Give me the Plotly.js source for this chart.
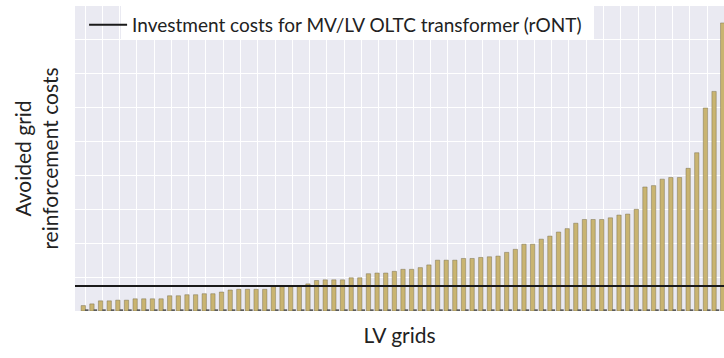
<!DOCTYPE html>
<html>
<head>
<meta charset="utf-8">
<script src="https://cdn.plot.ly/plotly-3.0.1.min.js"></script>
<style>html,body{margin:0;padding:0;background:#fff;}#chart{width:724px;height:358px;}</style>
</head>
<body>
<div id="chart"></div>
<script>
// Avoided grid reinforcement costs per LV grid (gridline units), sorted ascending
const avoidedCosts = [
  0.16, 0.21, 0.30, 0.30, 0.32, 0.32, 0.36, 0.36, 0.36, 0.36,
  0.45, 0.45, 0.48, 0.48, 0.51, 0.51, 0.56, 0.62, 0.64, 0.64,
  0.64, 0.64, 0.72, 0.72, 0.72, 0.72, 0.80, 0.90, 0.92, 0.92,
  0.92, 0.98, 0.98, 1.10, 1.12, 1.12, 1.17, 1.23, 1.23, 1.28,
  1.36, 1.50, 1.50, 1.50, 1.55, 1.55, 1.58, 1.60, 1.62, 1.73,
  1.82, 1.97, 1.97, 2.12, 2.21, 2.33, 2.43, 2.59, 2.70, 2.70,
  2.70, 2.75, 2.83, 2.86, 3.00, 3.66, 3.70, 3.89, 3.94, 3.94,
  4.21, 4.67, 5.99, 6.48, 8.50
];
// second (dark) series, near zero for every grid
const secondSeries = [
  0.05,0.05,0.05,0.05,0.05,0.05,0.05,0.05,0.05,0.05,
  0.05,0.05,0.05,0.05,0.05,0.05,0.05,0.05,0.05,0.05,
  0.05,0.05,0.05,0.05,0.05,0.05,0.05,0.05,0.05,0.05,
  0.05,0.05,0.05,0.05,0.05,0.05,0.05,0.05,0.05,0.05,
  0.05,0.05,0.05,0.05,0.05,0.05,0.05,0.05,0.05,0.05,
  0.05,0.05,0.05,0.05,0.05,0.05,0.05,0.05,0.05,0.05,
  0.05,0.05,0.05,0.05,0.05,0.05,0.05,0.05,0.05,0.05,
  0.05,0.05,0.05,0.05,0.05
];
const gridLabels = avoidedCosts.map((_, i) => 'LV' + (i + 1));
const rontCost = 0.74;
const legendLabel = 'Investment costs for MV/LV OLTC transformer (rONT)';
const xTitle = 'LV grids';
const yTitle = 'Avoided grid<br>reinforcement costs';

const FONT = 'Lato, "Open Sans", sans-serif';

const traces = [
  {
    type: 'bar', x: gridLabels, y: avoidedCosts,
    width: 0.5, offset: -0.45,
    marker: {color: '#c9b471', line: {color: 'rgba(110,100,70,0.55)', width: 0.8}},
    showlegend: false, hoverinfo: 'y'
  },
  {
    type: 'bar', x: gridLabels, y: secondSeries,
    width: 0.4, offset: 0.0,
    marker: {color: '#5a5a5a'},
    showlegend: false, hoverinfo: 'skip'
  },
  {
    type: 'scatter', mode: 'lines', xaxis: 'x2', yaxis: 'y',
    x: [0, 1], y: [rontCost, rontCost],
    line: {color: '#1a1a1a', width: 2},
    name: legendLabel, showlegend: true, hoverinfo: 'skip'
  }
];

const layout = {
  width: 724, height: 358,
  margin: {l: 75, r: 0, t: 6, b: 47},
  paper_bgcolor: '#ffffff',
  plot_bgcolor: '#eaeaf2',
  barmode: 'overlay',
  font: {family: FONT, color: '#222', size: 19},
  xaxis: {
    type: 'category', range: [-1.16, 73.95],
    showgrid: true, gridcolor: '#ffffff', gridwidth: 1,
    showticklabels: false, ticks: '', zeroline: false, showline: false,
    title: {text: xTitle, font: {family: FONT, size: 21, color: '#222'}, standoff: 17}
  },
  xaxis2: {
    overlaying: 'x', range: [0, 1], visible: false, fixedrange: true
  },
  yaxis: {
    range: [0, 9.0], dtick: 1, tick0: 0,
    showgrid: true, gridcolor: '#ffffff', gridwidth: 1,
    showticklabels: false, ticks: '', zeroline: false, showline: false,
    title: {text: yTitle, font: {family: FONT, size: 21, color: '#222'}, standoff: 9}
  },
  legend: {
    x: 0.014, xanchor: 'left', y: 1.0, yanchor: 'top',
    bgcolor: 'rgba(0,0,0,0)', borderwidth: 0,
    itemwidth: 38,
    font: {family: FONT, size: 19, color: '#222'}
  },
  shapes: [
    {type: 'rect', xref: 'paper', yref: 'paper', x0: 0.0709, x1: 0.7997, y0: 0.8885, y1: 1.03,
     fillcolor: '#ffffff', line: {width: 0}, layer: 'above'}
  ]
};

Plotly.newPlot('chart', traces, layout, {staticPlot: true, displayModeBar: false});
</script>
</body>
</html>
